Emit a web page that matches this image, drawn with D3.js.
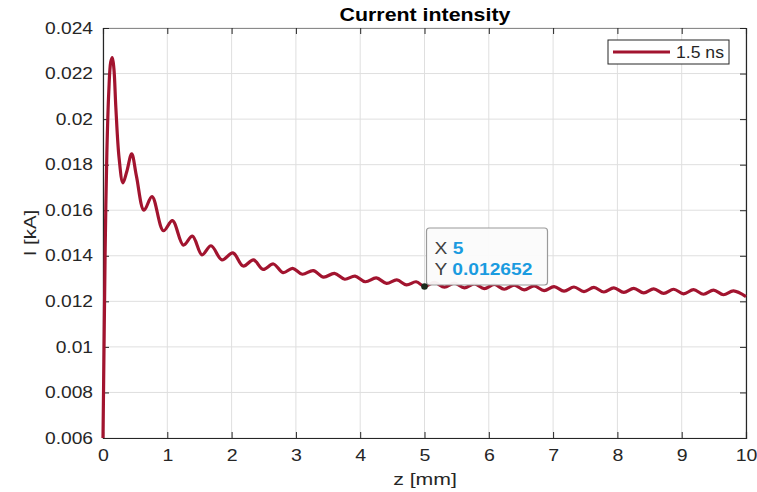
<!DOCTYPE html>
<html><head><meta charset="utf-8">
<script src="https://cdn.jsdelivr.net/npm/d3@7"></script>
<style>body{margin:0;background:#fff;}svg{display:block;font-family:"Liberation Sans",Arial,sans-serif;}</style>
</head><body>
<svg id="c" width="757" height="492"></svg>
<script>
const zValues = [0,0.01,0.02,0.035,0.06,0.09,0.12,0.145,0.17,0.2,0.25,0.31,0.37,0.446,0.52,0.638,0.762,0.94,1.08,1.25,1.39,1.54,1.68,1.85,2.02,2.18,2.34,2.49,2.65,2.80,2.95,3.10,3.27,3.43,3.60,3.76,3.92,4.08,4.25,4.41,4.57,4.72,4.87,5.0,5.155,5.31,5.465,5.62,5.775,5.93,6.085,6.24,6.395,6.55,6.705,6.86,7.015,7.17,7.325,7.48,7.635,7.79,7.945,8.10,8.255,8.41,8.565,8.72,8.875,9.03,9.185,9.34,9.495,9.65,9.805,10.0];
const iValues = [0.006,0.0085,0.011,0.0145,0.0185,0.0212,0.0225,0.0227,0.0222,0.0205,0.0183,0.0172,0.0177,0.01848,0.0175,0.0160,0.0166,0.0151,0.01554,0.01447,0.01486,0.01404,0.01444,0.01382,0.01413,0.01355,0.01382,0.0134,0.01364,0.01326,0.01345,0.01319,0.01335,0.01306,0.01323,0.01297,0.01311,0.01286,0.01303,0.01279,0.01294,0.01272,0.01286,0.012652,0.01283,0.01262,0.01280,0.01259,0.01277,0.01256,0.01274,0.01253,0.01271,0.01250,0.01268,0.01247,0.01265,0.01245,0.01263,0.01243,0.01261,0.01241,0.01259,0.01239,0.01257,0.01237,0.01255,0.01235,0.01253,0.01233,0.01251,0.01231,0.01249,0.01229,0.01246,0.01221];
const xTicks = [0,1,2,3,4,5,6,7,8,9,10];
const yTicks = [0.006,0.008,0.01,0.012,0.014,0.016,0.018,0.02,0.022,0.024];
const yTickLabels = ["0.006","0.008","0.01","0.012","0.014","0.016","0.018","0.02","0.022","0.024"];
const seriesName = "1.5 ns";
const tipX = 5, tipY = 0.012652;

const svg = d3.select("#c");
const L=103,R=746,T=28,B=438;
const x = d3.scaleLinear().domain([0,10]).range([L,R]);
const y = d3.scaleLinear().domain([0.006,0.024]).range([B,T]);
const axCol="#262626";
function stretch(sel,k){ sel.each(function(){ const l=this.getComputedTextLength(); this.setAttribute("textLength",l*k); this.setAttribute("lengthAdjust","spacingAndGlyphs"); }); }

// grid
const g = svg.append("g");
g.selectAll(".vg").data(xTicks).join("line").attr("x1",d=>x(d)).attr("x2",d=>x(d)).attr("y1",T).attr("y2",B).attr("stroke","#dfdfdf").attr("stroke-width",1);
g.selectAll(".hg").data(yTicks).join("line").attr("y1",d=>y(d)).attr("y2",d=>y(d)).attr("x1",L).attr("x2",R).attr("stroke","#dfdfdf").attr("stroke-width",1);

// axes
const xb = svg.append("g").attr("transform",`translate(0,${B})`).call(d3.axisBottom(x).tickValues(xTicks).tickSize(-6).tickPadding(12).tickFormat(d3.format("d")));
const xt = svg.append("g").attr("transform",`translate(0,${T})`).call(d3.axisTop(x).tickValues(xTicks).tickSize(-6).tickFormat(""));
const yl = svg.append("g").attr("transform",`translate(${L},0)`).call(d3.axisLeft(y).tickValues(yTicks).tickSize(-6).tickPadding(10).tickFormat((d,i)=>yTickLabels[i]));
const yr = svg.append("g").attr("transform",`translate(${R},0)`).call(d3.axisRight(y).tickValues(yTicks).tickSize(-6).tickFormat(""));
[xb,xt,yl,yr].forEach(a=>{
  a.select(".domain").attr("stroke",axCol).attr("stroke-width",1.2);
  a.selectAll(".tick line").attr("stroke",axCol);
  a.selectAll("text").attr("fill",axCol).style("font-size","16px").style("font-family","'Liberation Sans',Arial,sans-serif");
});
xt.select(".domain").attr("stroke","#8a8a8a");
stretch(yl.selectAll("text"),1.2);
stretch(xb.selectAll("text"),1.22);

// line
const data = zValues.map((z,i)=>({z,v:iValues[i]}));
svg.append("path").datum(data)
  .attr("fill","none").attr("stroke","#A2142F").attr("stroke-width",3.2).attr("stroke-linejoin","round")
  .attr("d",d3.line().x(d=>x(d.z)).y(d=>y(d.v)).curve(d3.curveCatmullRom.alpha(0.5)));

// title and labels
const title = svg.append("text").attr("x",425).attr("y",21).attr("text-anchor","middle").attr("font-weight","bold").attr("font-size","17.5px").attr("fill","#000").text("Current intensity");
stretch(title,1.22);
const xlab = svg.append("text").attr("x",425).attr("y",485).attr("text-anchor","middle").attr("font-size","17px").attr("fill",axCol).text("z [mm]");
stretch(xlab,1.25);
const ylab = svg.append("text").attr("transform","translate(36,233) rotate(-90)").attr("text-anchor","middle").attr("font-size","17px").attr("fill",axCol).text("I [kA]");
stretch(ylab,1.2);

// legend
const lg = svg.append("g");
lg.append("rect").attr("x",608).attr("y",40).attr("width",121).attr("height",24).attr("fill","#fff").attr("stroke",axCol).attr("stroke-width",1);
lg.append("line").attr("x1",613).attr("x2",670).attr("y1",52).attr("y2",52).attr("stroke","#A2142F").attr("stroke-width",3.2);
const lt = lg.append("text").attr("x",676).attr("y",58).attr("font-size","16px").attr("fill",axCol).text(seriesName);
stretch(lt,1.1);

// datatip
const px = x(tipX), py = y(tipY);
const tg = svg.append("g");
tg.append("rect").attr("x",px+2).attr("y",228).attr("width",121).attr("height",57).attr("rx",3).attr("fill","#fbfbfb").attr("fill-opacity",0.95).attr("stroke","#9a9a9a").attr("stroke-width",1.2);
const t1 = tg.append("text").attr("x",px+10).attr("y",254).attr("font-size","16px");
t1.append("tspan").attr("fill","#404040").text("X ");
t1.append("tspan").attr("fill","#1a9be0").attr("font-weight","bold").text(String(tipX));
const t2 = tg.append("text").attr("x",px+10).attr("y",275).attr("font-size","16px");
t2.append("tspan").attr("fill","#404040").text("Y ");
t2.append("tspan").attr("fill","#1a9be0").attr("font-weight","bold").text(String(tipY));
stretch(t1,1.2); stretch(t2,1.2);
tg.append("circle").attr("cx",px).attr("cy",py).attr("r",3.3).attr("fill","#1c2a1c");
</script>
</body></html>
